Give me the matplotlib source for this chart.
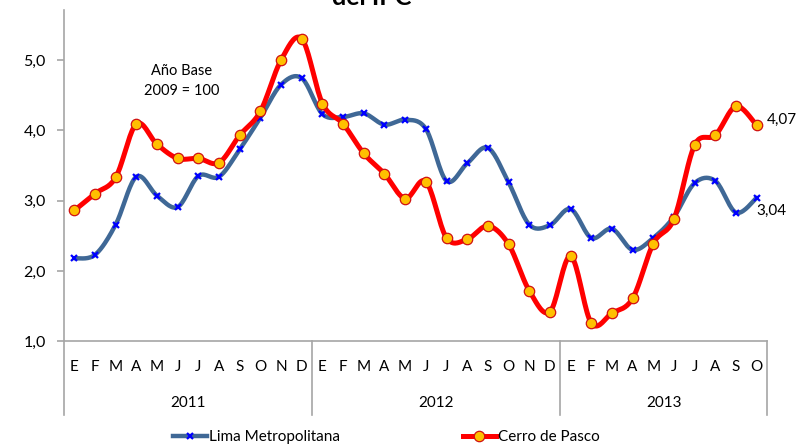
#Gráfico IPC Lima Metropolitana vs Cerro de Pasco
import matplotlib.pyplot as plt
import matplotlib.transforms as mtransforms
from matplotlib.lines import Line2D
import numpy as np

plt.rcParams['font.family'] = ['Lato', 'DejaVu Sans']

#Datos
meses = ["E","F","M","A","M","J","J","A","S","O","N","D",
         "E","F","M","A","M","J","J","A","S","O","N","D",
         "E","F","M","A","M","J","J","A","S","O"]
anios = ["2011", "2012", "2013"]
meses_por_anio = [12, 12, 10]

lima = [2.18, 2.23, 2.66, 3.34, 3.07, 2.91, 3.35, 3.34, 3.73, 4.18, 4.65, 4.74,
        4.23, 4.19, 4.24, 4.08, 4.15, 4.02, 3.28, 3.53, 3.75, 3.26, 2.66, 2.65,
        2.88, 2.47, 2.60, 2.30, 2.47, 2.77, 3.25, 3.28, 2.83, 3.04]
cerro = [2.86, 3.10, 3.33, 4.09, 3.80, 3.60, 3.60, 3.54, 3.93, 4.27, 5.00, 5.30,
         4.38, 4.09, 3.67, 3.38, 3.03, 3.27, 2.47, 2.45, 2.64, 2.38, 1.72, 1.42,
         2.21, 1.26, 1.40, 1.61, 2.39, 2.74, 3.79, 3.93, 4.34, 4.07]

#Curva suavizada tipo Excel (Bezier por segmentos)
def suavizar(y, pasos=20):
    y = np.asarray(y, dtype=float)
    x = np.arange(len(y), dtype=float)
    xs, ys = [], []
    for i in range(len(y) - 1):
        i0 = max(i - 1, 0)
        i3 = min(i + 2, len(y) - 1)
        p0 = np.array([x[i0], y[i0]])
        p1 = np.array([x[i], y[i]])
        p2 = np.array([x[i + 1], y[i + 1]])
        p3 = np.array([x[i3], y[i3]])
        c1 = p1 + (p2 - p0) / 6
        c2 = p2 - (p3 - p1) / 6
        t = np.linspace(0, 1, pasos)[:, None]
        b = (1-t)**3*p1 + 3*(1-t)**2*t*c1 + 3*(1-t)*t**2*c2 + t**3*p2
        xs.extend(b[:, 0]); ys.extend(b[:, 1])
    return np.array(xs), np.array(ys)

fig = plt.figure(figsize=(7.96, 4.44), dpi=100)
ax = fig.add_axes([0.0804, 0.2313, 0.8832, 0.7462])

n = np.arange(len(lima))
azul = '#3F6896'
rojo = '#FF0000'

xl, yl = suavizar(lima)
ax.plot(xl, yl, color=azul, lw=3.2, solid_capstyle='round', zorder=2)
ax.plot(n, lima, linestyle='none', marker='x', color='#0000FF', ms=5, mew=1.6, zorder=3)

xc, yc = suavizar(cerro)
ax.plot(xc, yc, color=rojo, lw=3.6, solid_capstyle='round', zorder=4)
ax.plot(n, cerro, linestyle='none', marker='o', mfc='#FFC000', mec='#D01010', ms=7.5, mew=0.9, zorder=5)

ax.set_xlim(-0.5, len(lima) - 0.5)
ax.set_ylim(1, 5.71)
ax.set_yticks([1, 2, 3, 4, 5])
ax.set_yticklabels(["1,0", "2,0", "3,0", "4,0", "5,0"], fontsize=11.5)
ax.set_xticks([])
for s in ['top', 'right']:
    ax.spines[s].set_visible(False)
for s in ['left', 'bottom']:
    ax.spines[s].set_color('#A6A6A6')
    ax.spines[s].set_linewidth(1.2)
ax.tick_params(axis='y', colors='#A6A6A6', labelcolor='black', length=5, width=1.2, pad=8)

#Ejes de categorías (meses y años)
trans = mtransforms.blended_transform_factory(ax.transData, ax.transAxes)
for i, m in enumerate(meses):
    ax.text(i, -0.078, m, transform=trans, ha='center', va='center', fontsize=11)
inicio = -0.5
for a, k in zip(anios, meses_por_anio):
    ax.plot([inicio, inicio], [0, -0.222], transform=trans, color='#A6A6A6', lw=1.2, clip_on=False)
    ax.text(inicio + k / 2, -0.186, a, transform=trans, ha='center', va='center', fontsize=11)
    inicio += k
ax.plot([inicio, inicio], [0, -0.222], transform=trans, color='#A6A6A6', lw=1.2, clip_on=False)

#Textos
ax.text(5.2, 4.7, "Año Base\n2009 = 100", ha='center', va='center', fontsize=10.5, linespacing=1.5)
ax.annotate("4,07", (33, cerro[-1]), xytext=(10, 5), textcoords='offset pixels',
            ha='left', va='center', fontsize=11, annotation_clip=False)
ax.annotate("3,04", (33, lima[-1]), xytext=(0, -13), textcoords='offset pixels',
            ha='left', va='center', fontsize=11, annotation_clip=False)
fig.text(0.467, 0.989, "del IPC", ha='center', va='baseline', fontsize=18, fontweight='bold')

#Leyenda
h1 = Line2D([], [], color=azul, lw=3.2, marker='x', mec='#0000FF', ms=5, mew=1.6)
h2 = Line2D([], [], color=rojo, lw=3.6, marker='o', mfc='#FFC000', mec='#D01010', ms=7.5, mew=0.9)
fig.legend([h1, h2], ["Lima Metropolitana", "Cerro de Pasco"], loc='center',
           bbox_to_anchor=(0.486, 0.016), ncol=2, frameon=False, fontsize=11,
           handlelength=2.2, handletextpad=0.15, columnspacing=8)

plt.savefig('out.png', dpi=100)
